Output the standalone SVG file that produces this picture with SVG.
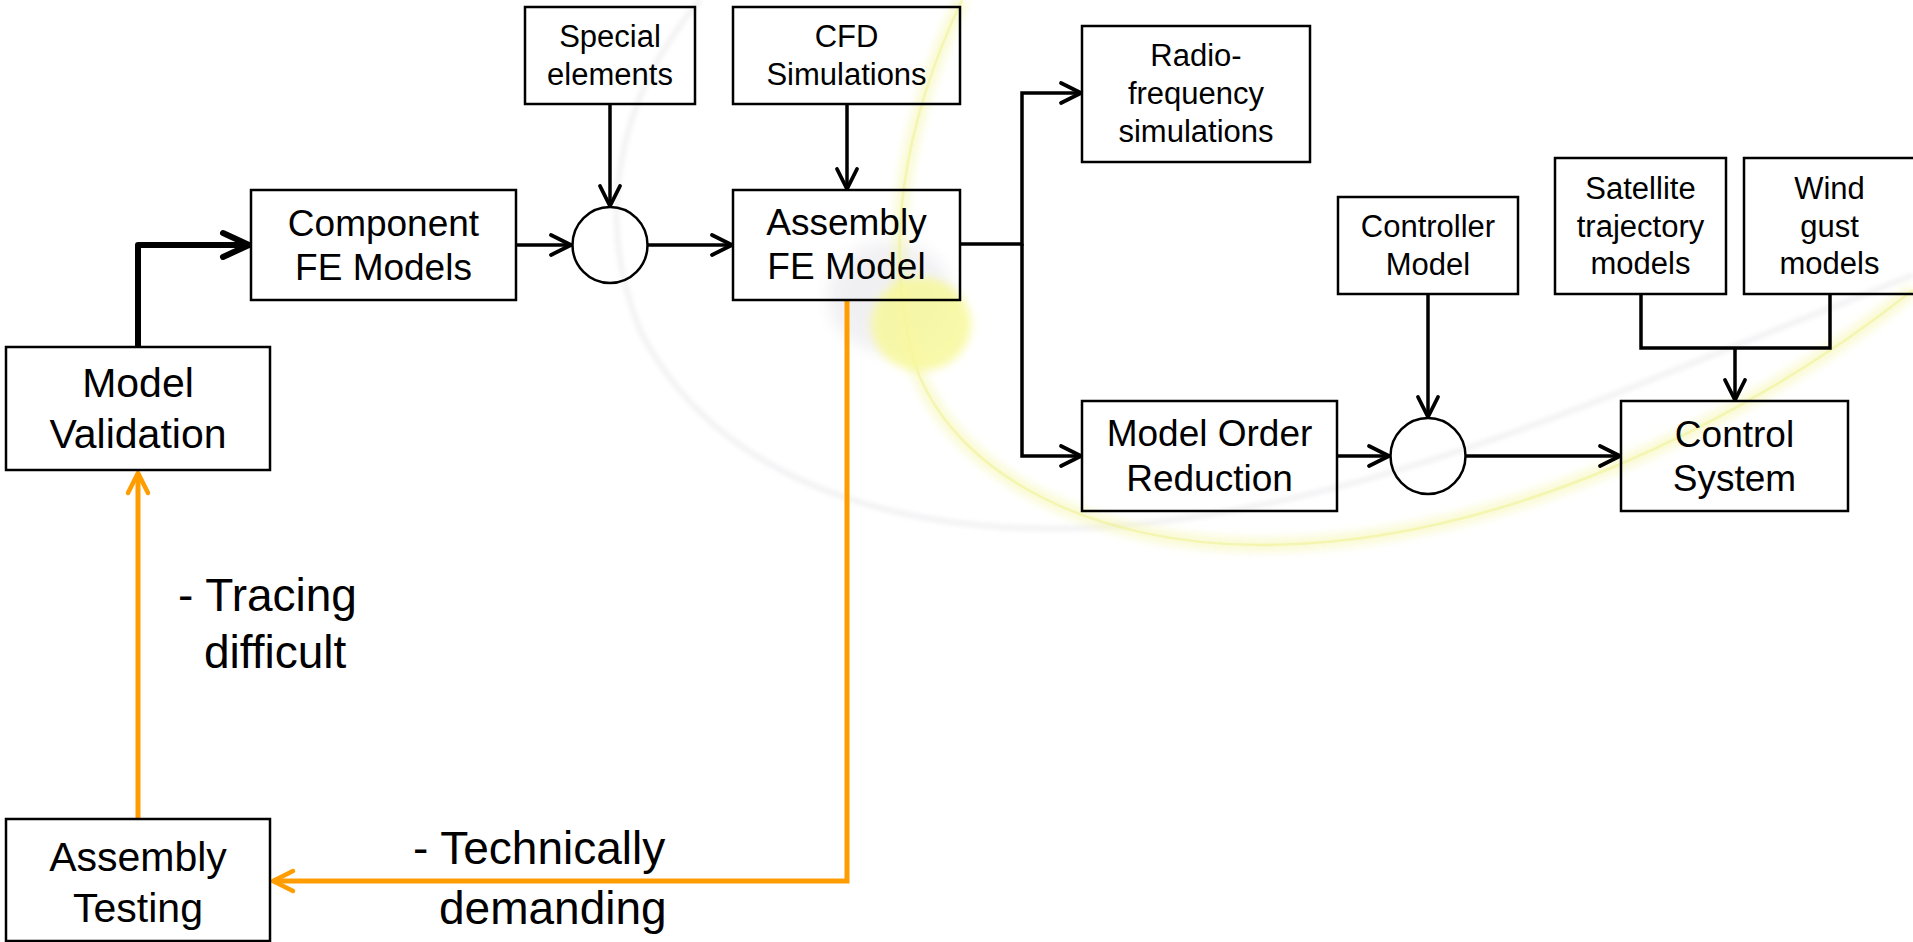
<svg xmlns="http://www.w3.org/2000/svg" width="1913" height="942" viewBox="0 0 1913 942">
<defs>
<style>
.box{fill:none;stroke:#000;stroke-width:2.5}
.t{font-family:"Liberation Sans",Arial,sans-serif;fill:#000;text-anchor:middle}
.s{font-size:31px}
.m{font-size:37px}
.l{font-size:41px}
.ann{font-family:"Liberation Sans",Arial,sans-serif;font-size:46px;fill:#000}
.c{fill:none;stroke:#000;stroke-width:3.5;stroke-linejoin:miter}
.ck{fill:none;stroke:#000;stroke-width:6;stroke-linejoin:round}
.co{fill:none;stroke:#FF9C00;stroke-width:5}
.yarc{fill:none}
</style>
<marker id="ah" markerUnits="userSpaceOnUse" markerWidth="40" markerHeight="40" refX="0" refY="0" orient="auto" overflow="visible">
<path d="M-20,-10 L0,0 L-20,10" fill="none" stroke="#000" stroke-width="3.8" stroke-linecap="round" stroke-linejoin="round"/>
</marker>
<marker id="ahk" markerUnits="userSpaceOnUse" markerWidth="50" markerHeight="50" refX="0" refY="0" orient="auto" overflow="visible">
<path d="M-26,-12 L0,0 L-26,12" fill="none" stroke="#000" stroke-width="6" stroke-linecap="round" stroke-linejoin="round"/>
</marker>
<marker id="aho" markerUnits="userSpaceOnUse" markerWidth="40" markerHeight="40" refX="0" refY="0" orient="auto" overflow="visible">
<path d="M-20,-10 L0,0 L-20,10" fill="none" stroke="#FF9C00" stroke-width="4.5" stroke-linecap="round" stroke-linejoin="round"/>
</marker>
<filter id="blur8" x="-50%" y="-50%" width="200%" height="200%"><feGaussianBlur stdDeviation="8"/></filter>
<filter id="blur4" x="-20%" y="-20%" width="140%" height="140%"><feGaussianBlur stdDeviation="4"/></filter>
<filter id="blur2" x="-20%" y="-20%" width="140%" height="140%"><feGaussianBlur stdDeviation="2"/></filter>
</defs>

<g id="background">
<path d="M700,0 C615,100 595,220 640,330 C700,450 830,515 1000,527 C1200,540 1420,470 1600,400 C1750,340 1850,300 1913,275" fill="none" stroke="#EBEBEE" stroke-width="6" opacity="0.6" filter="url(#blur2)"/>
<ellipse cx="890" cy="297" rx="62" ry="56" fill="#EBEBEF" opacity="0.7" filter="url(#blur8)"/>
<path class="yarc" d="M962,0 C905,120 880,250 917,370 C960,480 1100,545 1260,545 C1500,545 1750,420 1913,290" stroke="#F4F4A0" stroke-width="14" opacity="0.45" filter="url(#blur4)"/>
<path class="yarc" d="M962,0 C905,120 880,250 917,370 C960,480 1100,545 1260,545 C1500,545 1750,420 1913,290" stroke="#EAF080" stroke-width="2.5" opacity="0.45"/>
<ellipse cx="921" cy="324" rx="50" ry="47" fill="#F8F89C" opacity="0.85" filter="url(#blur4)"/>
</g>

<g id="connectors">
<path class="ck" d="M138,347 V245 H249" marker-end="url(#ahk)"/>
<path class="c" d="M516,245 H571" marker-end="url(#ah)"/>
<path class="c" d="M610,104 V206" marker-end="url(#ah)"/>
<path class="c" d="M648,245 H732" marker-end="url(#ah)"/>
<path class="c" d="M847,104 V189" marker-end="url(#ah)"/>
<path class="c" d="M960,244 H1022 V93 H1081" marker-end="url(#ah)"/>
<path class="c" d="M1022,244 V456 H1081" marker-end="url(#ah)"/>
<path class="c" d="M1337,456 H1389" marker-end="url(#ah)"/>
<path class="c" d="M1428,294 V417" marker-end="url(#ah)"/>
<path class="c" d="M1466,456 H1620" marker-end="url(#ah)"/>
<path class="c" d="M1641,294 V348 H1830 V294"/>
<path class="c" d="M1735,348 V400" marker-end="url(#ah)"/>
<path class="co" d="M847,300 V881 H273" marker-end="url(#aho)"/>
<path class="co" d="M138,819 V473" marker-end="url(#aho)"/>
</g>

<g id="special-elements">
<rect class="box" x="525" y="7" width="170" height="97"/>
<text class="t s" x="610" y="47">Special</text>
<text class="t s" x="610" y="85">elements</text>
</g>
<g id="cfd-simulations">
<rect class="box" x="733" y="7" width="227" height="97"/>
<text class="t s" x="846.5" y="47">CFD</text>
<text class="t s" x="846.5" y="85">Simulations</text>
</g>
<g id="radio-frequency">
<rect class="box" x="1082" y="26" width="228" height="136"/>
<text class="t s" x="1196" y="66">Radio-</text>
<text class="t s" x="1196" y="104">frequency</text>
<text class="t s" x="1196" y="142">simulations</text>
</g>
<g id="component-fe">
<rect class="box" x="251" y="190" width="265" height="110"/>
<text class="t m" x="383.5" y="236">Component</text>
<text class="t m" x="383.5" y="280">FE Models</text>
</g>
<g id="sum1">
<ellipse class="box" cx="610" cy="245" rx="37.5" ry="38"/>
</g>
<g id="assembly-fe">
<rect class="box" x="733" y="190" width="227" height="110"/>
<text class="t m" x="846.5" y="235">Assembly</text>
<text class="t m" x="846.5" y="279">FE Model</text>
</g>
<g id="model-validation">
<rect class="box" x="6" y="347" width="264" height="123"/>
<text class="t l" x="138" y="397">Model</text>
<text class="t l" x="138" y="448">Validation</text>
</g>
<g id="assembly-testing">
<rect class="box" x="6" y="819" width="264" height="122"/>
<text class="t l" x="138" y="871">Assembly</text>
<text class="t l" x="138" y="922">Testing</text>
</g>
<g id="controller-model">
<rect class="box" x="1338" y="197" width="180" height="97"/>
<text class="t s" x="1428" y="237">Controller</text>
<text class="t s" x="1428" y="275">Model</text>
</g>
<g id="satellite-trajectory">
<rect class="box" x="1555" y="158" width="171" height="136"/>
<text class="t s" x="1640.5" y="199">Satellite</text>
<text class="t s" x="1640.5" y="237">trajectory</text>
<text class="t s" x="1640.5" y="274">models</text>
</g>
<g id="wind-gust">
<rect class="box" x="1744" y="158" width="171" height="136"/>
<text class="t s" x="1829.5" y="199">Wind</text>
<text class="t s" x="1829.5" y="237">gust</text>
<text class="t s" x="1829.5" y="274">models</text>
</g>
<g id="model-order-reduction">
<rect class="box" x="1082" y="401" width="255" height="110"/>
<text class="t m" x="1209.5" y="446">Model Order</text>
<text class="t m" x="1209.5" y="491">Reduction</text>
</g>
<g id="sum2">
<ellipse class="box" cx="1428" cy="456" rx="37.5" ry="38"/>
</g>
<g id="control-system">
<rect class="box" x="1621" y="401" width="227" height="110"/>
<text class="t m" x="1734.5" y="447">Control</text>
<text class="t m" x="1734.5" y="491">System</text>
</g>
<g id="annotation-tracing">
<text class="ann" x="178" y="611">- Tracing</text>
<text class="ann" x="204" y="668">difficult</text>
</g>
<g id="annotation-technically">
<text class="ann" x="413" y="864">- Technically</text>
<text class="ann" x="439" y="924">demanding</text>
</g>
</svg>
